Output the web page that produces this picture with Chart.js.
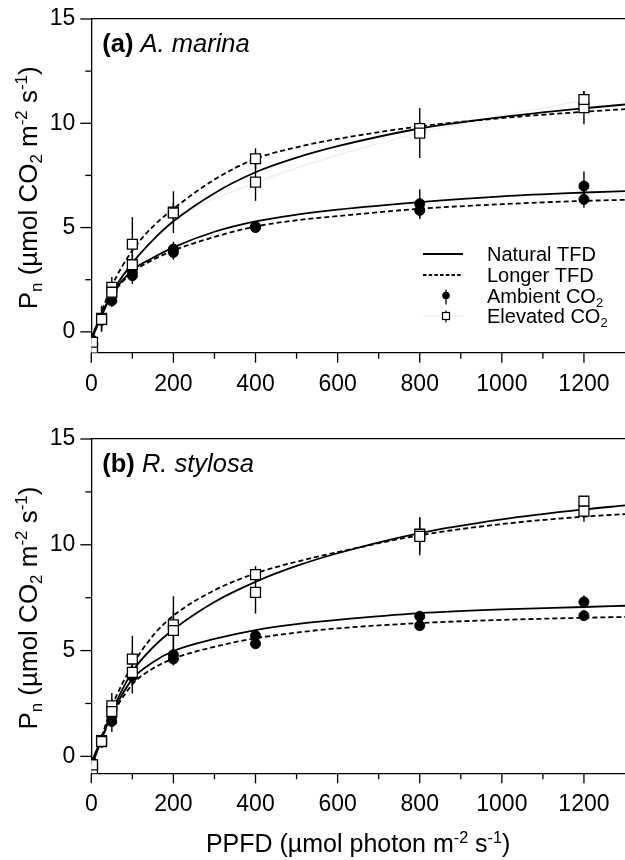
<!DOCTYPE html>
<html>
<head>
<meta charset="utf-8">
<script src="https://cdn.jsdelivr.net/npm/chart.js@4.4.1/dist/chart.umd.min.js"></script>
<style>
  html, body { margin: 0; padding: 0; background: #fff; overflow: hidden; }
  #wrap { position: relative; width: 625px; height: 860px; }
  canvas { position: absolute; left: 0; }
  #chartA { top: 0; }
  #chartB { top: 420px; }
</style>
</head>
<body>
<div id="wrap">
  <canvas id="chartA" width="625" height="400"></canvas>
  <canvas id="chartB" width="625" height="440"></canvas>
</div>
<script>
(function () {

    // PPFD levels of the measurements and of the read-off fitted curves
    const pointX = [3, 25, 50, 100, 200, 400, 800, 1200];
    const curveX = [0, 25, 50, 100, 150, 200, 300, 400, 500, 600, 800, 1000, 1200, 1300];
    const fadeX = [50, 100, 200, 400, 800, 1200];

    const xTicks = [0, 100, 200, 300, 400, 500, 600, 700, 800, 900, 1000, 1100, 1200, 1300];
    const yTicks = [0, 2.5, 5, 7.5, 10, 12.5, 15];

    // (a) A. marina
    const aAmbNat = [-0.4, 0.6, 1.73, 2.85, 3.97, 5.05, 6.14, 6.99];
    const aAmbNatErr = [0.15, 0.3, 0.3, 0.4, 0.35, 0.15, 0.7, 0.7];
    const aAmbLong = [-0.5, 0.55, 1.49, 2.69, 3.81, 5.0, 5.82, 6.35];
    const aAmbLongErr = [0.15, 0.3, 0.3, 0.4, 0.35, 0.15, 0.4, 0.4];
    const aElevNat = [-0.5, 0.6, 1.9, 3.22, 5.7, 7.18, 9.53, 11.14];
    const aElevNatErr = [0.2, 0.6, 0.5, 0.5, 0.5, 0.9, 1.2, 0.4];
    const aElevLong = [-0.78, 0.65, 2.13, 4.2, 5.74, 8.3, 9.75, 10.75];
    const aElevLongErr = [0.2, 0.6, 0.5, 1.3, 1.0, 0.5, 0.3, 0.8];

    const aCurveElevNat = [-0.4, 0.75, 1.85, 3.3, 4.4, 5.3, 6.65, 7.65, 8.35, 8.9, 9.75, 10.3, 10.72, 10.9];
    const aCurveElevLong = [-0.4, 0.95, 2.2, 3.9, 5.05, 5.9, 7.3, 8.3, 8.85, 9.25, 9.85, 10.25, 10.55, 10.68];
    const aCurveAmbNat = [-0.3, 0.85, 1.8, 2.95, 3.55, 4.05, 4.8, 5.3, 5.62, 5.86, 6.22, 6.5, 6.68, 6.75];
    const aCurveAmbLong = [-0.3, 0.8, 1.75, 2.85, 3.45, 3.9, 4.55, 5.05, 5.35, 5.55, 5.9, 6.12, 6.28, 6.33];
    const aFade = [1.9, 3.3, 5.3, 7.15, 9.55, 11.1];

    // (b) R. stylosa
    const bAmbNat = [-0.3, 0.7, 1.88, 3.85, 4.8, 5.7, 6.62, 7.3];
    const bAmbNatErr = [0.2, 0.3, 0.4, 0.5, 0.3, 0.15, 0.15, 0.3];
    const bAmbLong = [-0.6, 0.7, 1.65, 3.78, 4.6, 5.32, 6.18, 6.65];
    const bAmbLongErr = [0.2, 0.3, 0.5, 0.4, 0.3, 0.15, 0.15, 0.2];
    const bElevNat = [-0.4, 0.7, 2.12, 3.97, 5.95, 7.75, 10.4, 11.59];
    const bElevNatErr = [0.2, 0.3, 0.6, 1.0, 0.9, 1.0, 0.9, 0.5];
    const bElevLong = [-0.6, 0.75, 2.39, 4.6, 6.22, 8.59, 10.5, 12.06];
    const bElevLongErr = [0.2, 0.3, 0.6, 1.1, 1.35, 0.4, 0.8, 0.25];

    const bCurveElevNat = [-0.5, 0.8, 2.1, 4.0, 5.15, 6.0, 7.3, 8.25, 9.0, 9.6, 10.55, 11.2, 11.67, 11.86];
    const bCurveElevLong = [-0.5, 0.9, 2.35, 4.3, 5.7, 6.65, 7.85, 8.65, 9.2, 9.65, 10.45, 10.98, 11.33, 11.45];
    const bCurveAmbNat = [-0.3, 0.85, 2.0, 3.65, 4.45, 4.98, 5.55, 5.97, 6.25, 6.45, 6.77, 6.95, 7.06, 7.12];
    const bCurveAmbLong = [-0.3, 0.8, 1.9, 3.4, 4.15, 4.62, 5.18, 5.58, 5.85, 6.05, 6.3, 6.45, 6.55, 6.59];

    const FAMILY = '"Liberation Sans", Arial, Helvetica, sans-serif';
    Chart.defaults.font.family = FAMILY;
    Chart.defaults.color = '#000';

    function font(size, style) {
        return `${style || ''} ${size}px ${FAMILY}`;
    }

    // draws text made of pieces, some of them sub- or superscript
    function richText(ctx, parts, x, y, size, align) {
        let total = 0;
        const items = parts.map((p) => {
            const s = p.k ? size * 0.65 : size;
            ctx.font = font(s, p.st);
            const w = ctx.measureText(p.t).width;
            total += w;
            return { t: p.t, k: p.k, st: p.st, s, w };
        });
        let cx = align === 'center' ? x - total / 2 : x;
        ctx.textAlign = 'left';
        ctx.textBaseline = 'alphabetic';
        items.forEach((it) => {
            ctx.font = font(it.s, it.st);
            const dy = it.k === 'sub' ? size * 0.2 : it.k === 'sup' ? -size * 0.38 : 0;
            ctx.fillText(it.t, cx, y + dy);
            cx += it.w;
        });
    }

    function curve(vals, dashed) {
        return {
            type: 'line',
            data: curveX.map((x, i) => ({ x, y: vals[i] })),
            borderColor: '#000',
            borderWidth: 1.8,
            borderDash: dashed ? [5, 3] : [],
            pointRadius: 0,
            cubicInterpolationMode: 'monotone',
            fill: false
        };
    }

    function points(vals, errs, elevated) {
        return {
            type: 'scatter',
            data: pointX.map((x, i) => ({ x, y: vals[i] })),
            errors: errs,
            pointStyle: elevated ? 'rect' : 'circle',
            pointRadius: elevated ? 7 : 5,
            backgroundColor: elevated ? '#fff' : '#000',
            borderColor: '#000',
            borderWidth: elevated ? 1.3 : 1,
            showLine: false
        };
    }

    const errorBars = {
        id: 'errorBars',
        beforeDatasetsDraw(chart) {
            const { ctx, scales: { x, y } } = chart;
            ctx.save();
            ctx.strokeStyle = '#000';
            ctx.lineWidth = 1.4;
            chart.data.datasets.forEach((ds) => {
                if (!ds.errors) return;
                ds.data.forEach((p, i) => {
                    const px = x.getPixelForValue(p.x);
                    ctx.beginPath();
                    ctx.moveTo(px, y.getPixelForValue(p.y - ds.errors[i]));
                    ctx.lineTo(px, y.getPixelForValue(p.y + ds.errors[i]));
                    ctx.stroke();
                });
            });
            ctx.restore();
        }
    };

    // visible tick marks: long for labelled values, short for the others
    const tickMarks = {
        id: 'tickMarks',
        afterDraw(chart) {
            const { ctx, chartArea: a, scales: { x, y } } = chart;
            ctx.save();
            ctx.strokeStyle = '#000';
            ctx.lineWidth = 1.3;
            xTicks.forEach((v) => {
                const px = x.getPixelForValue(v);
                if (px > a.right - 1) return;
                const len = v % 200 === 0 ? 10 : 6;
                ctx.beginPath();
                ctx.moveTo(px, a.bottom);
                ctx.lineTo(px, a.bottom + len);
                ctx.stroke();
            });
            yTicks.forEach((v) => {
                const py = y.getPixelForValue(v);
                const len = v % 5 === 0 ? 11 : 6;
                ctx.beginPath();
                ctx.moveTo(a.left - len, py);
                ctx.lineTo(a.left, py);
                ctx.stroke();
            });
            ctx.restore();
        }
    };

    const yTitle = [
        { t: 'P' }, { t: 'n', k: 'sub' }, { t: ' (\u00b5mol CO' }, { t: '2', k: 'sub' },
        { t: ' m' }, { t: '-2', k: 'sup' }, { t: ' s' }, { t: '-1', k: 'sup' }, { t: ')' }
    ];
    const xTitle = [
        { t: 'PPFD (\u00b5mol photon m' }, { t: '-2', k: 'sup' }, { t: ' s' }, { t: '-1', k: 'sup' }, { t: ')' }
    ];

    const decor = {
        id: 'decor',
        afterDraw(chart, args, opts) {
            const { ctx, chartArea: a } = chart;
            ctx.save();
            ctx.fillStyle = '#000';

            richText(ctx, opts.label, a.left + 11, a.top + 33, 25.5, 'left');

            ctx.save();
            ctx.translate(37, (a.top + a.bottom) / 2 + 2);
            ctx.rotate(-Math.PI / 2);
            richText(ctx, yTitle, 0, 0, 26, 'center');
            ctx.restore();

            if (opts.xTitle) {
                richText(ctx, xTitle, (a.left + a.right) / 2, a.bottom + 79, 25, 'center');
            }

            if (opts.legend) {
                const rows = [254, 275, 295.5, 316];
                const x0 = 423, x1 = 463, mx = 446, tx = 487;
                ctx.strokeStyle = '#000';
                ctx.lineWidth = 1.8;
                ctx.beginPath(); ctx.moveTo(x0, rows[0]); ctx.lineTo(x1, rows[0]); ctx.stroke();
                ctx.setLineDash([3.5, 2.2]);
                ctx.beginPath(); ctx.moveTo(x0, rows[1]); ctx.lineTo(x1, rows[1]); ctx.stroke();
                ctx.setLineDash([]);

                ctx.lineWidth = 1.3;
                ctx.beginPath(); ctx.moveTo(mx, rows[2] - 6); ctx.lineTo(mx, rows[2] + 9); ctx.stroke();
                ctx.beginPath(); ctx.arc(mx, rows[2], 3.8, 0, Math.PI * 2); ctx.fill();

                ctx.strokeStyle = '#f0f0f0';
                ctx.lineWidth = 1.5;
                ctx.beginPath(); ctx.moveTo(x0, rows[3]); ctx.lineTo(x1, rows[3]); ctx.stroke();
                ctx.strokeStyle = '#000';
                ctx.lineWidth = 1.2;
                ctx.beginPath(); ctx.moveTo(mx, rows[3] - 5.5); ctx.lineTo(mx, rows[3] + 6.5); ctx.stroke();
                ctx.fillStyle = '#fff';
                ctx.fillRect(mx - 3.5, rows[3] - 3.5, 7, 7);
                ctx.strokeRect(mx - 3.5, rows[3] - 3.5, 7, 7);
                ctx.fillStyle = '#000';

                richText(ctx, [{ t: 'Natural TFD' }], tx, rows[0] + 7, 20, 'left');
                richText(ctx, [{ t: 'Longer TFD' }], tx, rows[1] + 7, 20, 'left');
                richText(ctx, [{ t: 'Ambient CO' }, { t: '2', k: 'sub' }], tx, rows[2] + 7, 20, 'left');
                richText(ctx, [{ t: 'Elevated CO' }, { t: '2', k: 'sub' }], tx, rows[3] + 7, 20, 'left');
            }
            ctx.restore();
        }
    };

    // transparent built-in ticks only keep the labels away from the axis
    const hiddenTicks = (len) => ({
        display: true,
        drawOnChartArea: false,
        drawTicks: true,
        tickLength: len,
        tickColor: 'rgba(0,0,0,0)'
    });

    function render(canvasId, sets, yMin, xAxisH, decorOpts) {
        const ctx = document.getElementById(canvasId).getContext('2d');
        const datasets = [
            points(sets.elevNat, sets.elevNatErr, true),
            points(sets.elevLong, sets.elevLongErr, true),
            points(sets.ambNat, sets.ambNatErr, false),
            points(sets.ambLong, sets.ambLongErr, false),
            curve(sets.cElevNat, false),
            curve(sets.cElevLong, true),
            curve(sets.cAmbNat, false),
            curve(sets.cAmbLong, true)
        ];
        if (sets.fade) {
            datasets.push({
                type: 'line',
                data: fadeX.map((x, i) => ({ x, y: sets.fade[i] })),
                borderColor: '#f0f0f0',
                borderWidth: 1.5,
                pointRadius: 0,
                cubicInterpolationMode: 'monotone'
            });
        }

        return new Chart(ctx, {
            type: 'scatter',
            data: { datasets },
            options: {
                responsive: false,
                animation: false,
                events: [],
                layout: { autoPadding: false, padding: { top: 19, right: 0, left: 0, bottom: 0 } },
                plugins: {
                    legend: { display: false },
                    tooltip: { enabled: false },
                    decor: decorOpts
                },
                scales: {
                    x: {
                        type: 'linear',
                        min: 0,
                        max: 1300,
                        afterBuildTicks: (s) => { s.ticks = xTicks.map((v) => ({ value: v })); },
                        afterFit: (s) => { s.height = xAxisH; },
                        grid: hiddenTicks(18),
                        border: { display: true, color: '#000', width: 1.3 },
                        ticks: {
                            autoSkip: false,
                            maxRotation: 0,
                            padding: 0,
                            color: '#000',
                            font: { size: 23 },
                            callback: (v) => (v % 200 === 0 ? String(v) : '')
                        }
                    },
                    xTop: {
                        type: 'linear',
                        position: 'top',
                        min: 0,
                        max: 1300,
                        afterFit: (s) => { s.height = 0; },
                        grid: { display: false },
                        ticks: { display: false },
                        border: { display: true, color: '#000', width: 1.3 }
                    },
                    y: {
                        type: 'linear',
                        min: yMin,
                        max: 15,
                        afterBuildTicks: (s) => { s.ticks = yTicks.map((v) => ({ value: v })); },
                        afterFit: (s) => { s.width = 91.3; },
                        grid: hiddenTicks(16),
                        border: { display: true, color: '#000', width: 1.3 },
                        ticks: {
                            padding: 0,
                            color: '#000',
                            font: { size: 23 },
                            callback: (v) => (v % 5 === 0 ? String(v) : '')
                        }
                    }
                }
            },
            plugins: [errorBars, tickMarks, decor]
        });
    }

    render('chartA', {
        ambNat: aAmbNat, ambNatErr: aAmbNatErr, ambLong: aAmbLong, ambLongErr: aAmbLongErr,
        elevNat: aElevNat, elevNatErr: aElevNatErr, elevLong: aElevLong, elevLongErr: aElevLongErr,
        cElevNat: aCurveElevNat, cElevLong: aCurveElevLong, cAmbNat: aCurveAmbNat, cAmbLong: aCurveAmbLong,
        fade: aFade
    }, -1, 47.3, {
        label: [{ t: '(a)', st: 'bold' }, { t: ' A. marina', st: 'italic' }],
        legend: true,
        xTitle: false
    });

    render('chartB', {
        ambNat: bAmbNat, ambNatErr: bAmbNatErr, ambLong: bAmbLong, ambLongErr: bAmbLongErr,
        elevNat: bElevNat, elevNatErr: bElevNatErr, elevLong: bElevLong, elevLongErr: bElevLongErr,
        cElevNat: bCurveElevNat, cElevLong: bCurveElevLong, cAmbNat: bCurveAmbNat, cAmbLong: bCurveAmbLong
    }, -0.8, 86.7, {
        label: [{ t: '(b)', st: 'bold' }, { t: ' R. stylosa', st: 'italic' }],
        legend: false,
        xTitle: true
    });
})();
</script>
</body>
</html>
